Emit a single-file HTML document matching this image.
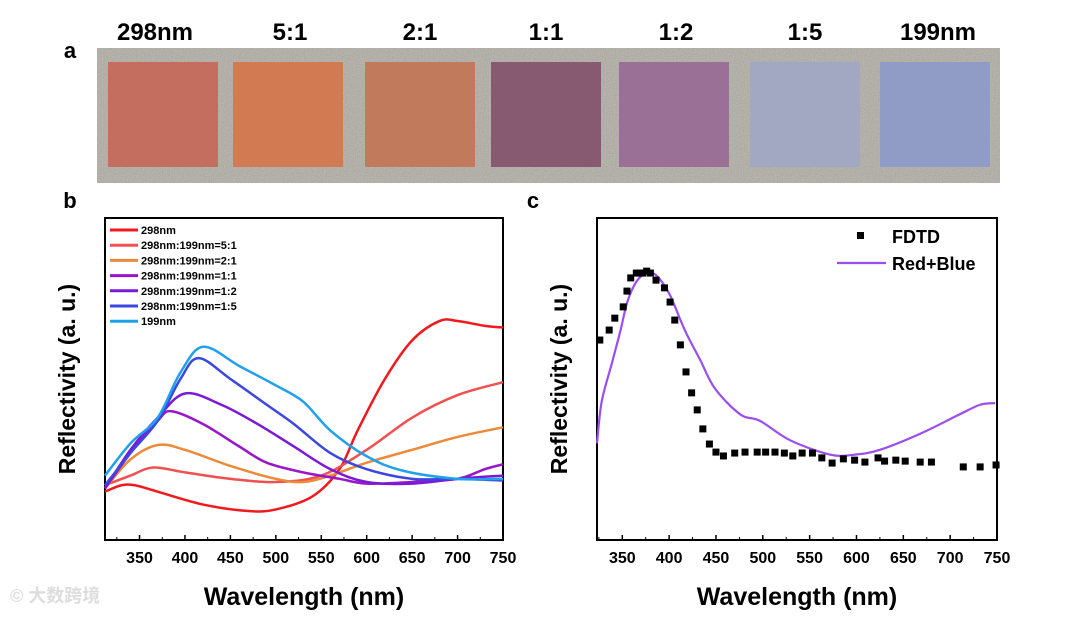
<!DOCTYPE html>
<html><head><meta charset="utf-8">
<style>
body{margin:0;width:1080px;height:614px;background:#fff;overflow:hidden;font-family:"Liberation Sans","Noto Sans CJK SC",sans-serif}
svg text{font-family:"Liberation Sans","Noto Sans CJK SC",sans-serif;font-weight:bold}
</style></head>
<body>
<svg id="fig" width="1080" height="614">
<defs>
<filter id="grain"><feTurbulence type="fractalNoise" baseFrequency="0.9" numOctaves="2" seed="3"/><feColorMatrix type="saturate" values="0"/><feComponentTransfer><feFuncA type="linear" slope="0.45"/></feComponentTransfer><feComposite in2="SourceGraphic" operator="in"/></filter>
</defs>
<g>
<rect x="97" y="48" width="903" height="135" fill="#b0aca4"/>
<rect x="97" y="48" width="903" height="135" fill="#000" filter="url(#grain)"/>
</g>
<g id="squares"></g>
<text x="70" y="58" font-size="22" text-anchor="middle">a</text>
<text x="70" y="208" font-size="22" text-anchor="middle">b</text>
<text x="533" y="208" font-size="22" text-anchor="middle">c</text>
<g id="pb"></g>
<g id="pc"></g>
<text x="10" y="602" font-size="18" fill="#ddd">© 大数跨境</text>
</svg>
<script>
const sampleLabels=["298nm","5:1","2:1","1:1","1:2","1:5","199nm"];
const sampleColors=["#c46e60","#d27a52","#c27a5c","#885a72","#9a7096","#a2a7c2","#909cc6"];
const labelX=[155,290,420,546,676,805,938];
const squareX=[108,233,365,491,619,750,880];

// Panel b data
const bSeriesNames=["298nm","298nm:199nm=5:1","298nm:199nm=2:1","298nm:199nm=1:1","298nm:199nm=1:2","298nm:199nm=1:5","199nm"];
const bColors=["#f0191e","#f0504f","#ec8a3a","#9a17c8","#7a1ad8","#3a48e0","#21a0ec"];
const red298=[[312,.15],[330,.17],[345,.17],[370,.15],[420,.11],[470,.09],[500,.095],[540,.135],[570,.22],[590,.34],[620,.5],[650,.62],[680,.68],[700,.68],[730,.665],[750,.66]];
const r51=[[312,.17],[340,.2],[365,.225],[400,.21],[450,.19],[500,.18],[550,.2],[600,.28],[650,.38],[700,.45],[750,.49]];
const r21=[[312,.16],[340,.25],[370,.295],[400,.28],[450,.23],[500,.19],[530,.18],[560,.2],[600,.24],[650,.28],[700,.32],[750,.35]];
const r11=[[312,.16],[340,.27],[370,.37],[385,.40],[420,.36],[460,.29],[490,.24],[530,.21],[570,.19],[600,.175],[650,.18],[700,.19],[730,.22],[750,.235]];
const r12=[[312,.16],[340,.28],[370,.38],[400,.455],[440,.42],[480,.36],[520,.29],[560,.22],[600,.18],[650,.175],[700,.19],[750,.2]];
const r15=[[312,.17],[340,.27],[370,.37],[395,.50],[415,.565],[450,.5],[490,.42],[520,.36],[560,.27],[600,.22],[650,.19],[700,.19],[750,.185]];
const b199=[[312,.2],[340,.3],[370,.38],[395,.52],[420,.6],[460,.54],[500,.48],[530,.43],[560,.34],[600,.26],[640,.215],[700,.19],[750,.19]];
const xTicks=[350,400,450,500,550,600,650,700,750];

// Panel c data
const fdtdWl=[326,336,342,351,355,359,365,369,372,376,380,386,395,401,406,412,418,424,430,436,443,450,458,470,481,494,503,513,523,532,542,553,563,574,586,598,609,623,630,642,652,668,680,714,732,749];
const fdtdVal=[.621,.652,.689,.724,.773,.814,.829,.829,.829,.835,.829,.807,.783,.739,.683,.606,.522,.457,.404,.345,.298,.273,.261,.270,.273,.273,.273,.273,.270,.261,.270,.270,.255,.239,.252,.248,.242,.255,.245,.248,.245,.242,.242,.227,.227,.233];
const rbWl=[323,328,339,348,356,367,380,390,401,417,433,449,476,497,529,572,598,625,668,710,732,748];
const rbVal=[.30,.43,.55,.65,.745,.81,.83,.81,.76,.65,.56,.47,.39,.37,.31,.265,.265,.28,.33,.39,.42,.425];

const NS="http://www.w3.org/2000/svg";
function mk(tag,attrs,parent){const e=document.createElementNS(NS,tag);for(const k in attrs)e.setAttribute(k,attrs[k]);parent.appendChild(e);return e;}
function smooth(pts){
  let d='M'+pts[0][0]+','+pts[0][1];
  for(let i=0;i<pts.length-1;i++){
    const p0=pts[i-1]||pts[i],p1=pts[i],p2=pts[i+1],p3=pts[i+2]||p2;
    const c1=[p1[0]+(p2[0]-p0[0])/6,p1[1]+(p2[1]-p0[1])/6];
    const c2=[p2[0]-(p3[0]-p1[0])/6,p2[1]-(p3[1]-p1[1])/6];
    d+=` C${c1[0]},${c1[1]} ${c2[0]},${c2[1]} ${p2[0]},${p2[1]}`;
  }
  return d;
}

const sq=document.getElementById('squares');
sampleLabels.forEach((l,i)=>{
  const r=mk('rect',{x:squareX[i],y:62,width:110,height:105,fill:sampleColors[i]},sq);
  
  
  const t=mk('text',{x:labelX[i],y:40,'font-size':24,'text-anchor':'middle'},sq);
  t.textContent=l;
  
  
});

function panel(g,x0,x1,y0,y1,dmin,dmax){
  const sx=v=>x0+(v-dmin)/(dmax-dmin)*(x1-x0);
  const sy=v=>y1-v*(y1-y0);
  const f=mk('rect',{x:x0,y:y0,width:x1-x0,height:y1-y0,fill:'none',stroke:'#000','stroke-width':2},g);
  
  
  xTicks.forEach(t=>{
    mk('line',{x1:sx(t),x2:sx(t),y1:y1,y2:y1-5,stroke:'#000','stroke-width':1.5},g);
    const tl=mk('text',{x:sx(t),y:y1+23,'font-size':16,'text-anchor':'middle'},g);
    tl.textContent=t;
    
    
  });
  for(let t=325;t<750;t+=50){if(t>dmin)mk('line',{x1:sx(t),x2:sx(t),y1:y1,y2:y1-3,stroke:'#000','stroke-width':1},g);}
  const xt=mk('text',{x:(x0+x1)/2,y:y1+65,'font-size':25,'text-anchor':'middle'},g);
  xt.textContent='Wavelength (nm)';
  
  
  const yt=mk('text',{x:0,y:0,'font-size':23,'text-anchor':'middle',transform:`translate(${x0-30},${(y0+y1)/2}) rotate(-90)`},g);
  yt.textContent='Reflectivity (a. u.)';
  
  
  return {sx,sy};
}

const pb=document.getElementById('pb');
const B=panel(pb,105,503,218,540,312,750);
[red298,r51,r21,r11,r12,r15,b199].forEach((s,i)=>{
  const p=mk('path',{d:smooth(s.map(d=>[B.sx(d[0]),B.sy(d[1])])),fill:'none',stroke:bColors[i],'stroke-width':2.5,'stroke-linejoin':'round'},pb);
  
  
  const y=230+i*15.2;
  const ll=mk('line',{x1:110,x2:138,y1:y,y2:y,stroke:bColors[i],'stroke-width':3},pb);
  
  
  const lt=mk('text',{x:141,y:y+4,'font-size':11},pb);
  lt.textContent=bSeriesNames[i];
  
  
});

const pc=document.getElementById('pc');
const C=panel(pc,597,997,218,540,323,750);
const rb=mk('path',{d:smooth(rbWl.map((w,i)=>[C.sx(w),C.sy(rbVal[i])])),fill:'none',stroke:'#9b4df0','stroke-width':2.2,'stroke-linejoin':'round'},pc);


fdtdWl.forEach((w,i)=>{
  const r=mk('rect',{x:C.sx(w)-3.5,y:C.sy(fdtdVal[i])-3.5,width:7,height:7,fill:'#000'},pc);
  
  
});
const l1=mk('rect',{x:857,y:232,width:7,height:7,fill:'#000'},pc);


const t1=mk('text',{x:892,y:243,'font-size':18},pc);t1.textContent='FDTD';


const l2=mk('line',{x1:837,x2:886,y1:263,y2:263,stroke:'#9b4df0','stroke-width':2.2},pc);


const t2=mk('text',{x:892,y:270,'font-size':18},pc);t2.textContent='Red+Blue';


</script>
</body></html>
